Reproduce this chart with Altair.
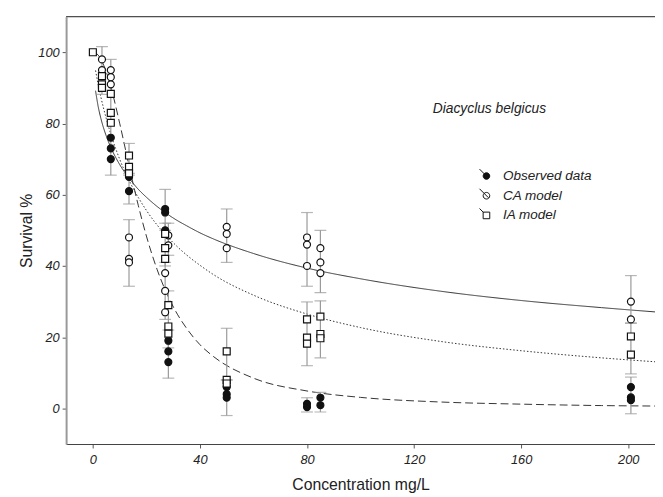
import altair as alt
import pandas as pd

# ---- fitted curves ----
curve_x = [1, 2, 3, 5, 7, 10, 14, 17, 20, 24, 27, 31, 35, 40, 45, 60, 80, 100, 130, 160, 190, 210]
curve_solid = [89.2, 84.7, 81.4, 76.5, 72.8, 68.5, 64.2, 61.5, 59.3, 56.7, 55.0, 53.0, 51.3, 49.3, 47.6, 43.5, 39.4, 36.4, 32.9, 30.3, 28.3, 27.1]
curve_dotted = [94.9, 90.9, 87.4, 81.4, 76.3, 70.0, 63.3, 59.2, 55.6, 51.5, 48.9, 45.8, 43.1, 40.2, 37.6, 31.8, 26.5, 22.7, 18.8, 16.2, 14.2, 13.1]
curve_dashed = [99.8, 99.2, 98.0, 94.5, 89.5, 80.1, 66.5, 56.9, 48.4, 39.0, 33.3, 27.2, 22.5, 17.9, 14.6, 8.5, 4.9, 3.1, 1.8, 1.2, 0.8, 0.67]

# ---- data points ----
obs_x = [6.7, 6.7, 6.7, 13.5, 13.5, 27, 27, 27, 28.2, 28.2, 28.2, 50, 50, 50, 80, 80, 85, 85, 201, 201, 201]
obs_y = [76, 73, 70, 65, 61, 56, 55, 50, 19, 16, 13, 6, 4, 3, 1.3, 0.4, 3, 0.9, 6, 3.1, 2.3]

ca_x = [3.4, 3.4, 6.7, 6.7, 6.7, 13.5, 13.5, 13.5, 27, 27, 27, 28.2, 28.2, 50, 50, 50, 80, 80, 80, 85, 85, 85, 201, 201]
ca_y = [98, 95, 95, 93, 91, 48, 42, 41, 38, 33, 27, 48.6, 45.8, 51, 49, 45, 48, 46, 40, 45, 41, 38, 30, 25]

ia_x = [0, 3.4, 3.4, 3.4, 6.7, 6.7, 6.7, 13.5, 13.5, 13.5, 27, 27, 27, 28.2, 28.2, 28.2, 50, 50, 50, 80, 80, 80, 85, 85, 85, 201, 201]
ia_y = [100, 93.3, 91, 90, 88.3, 83, 80.2, 71, 67.8, 66, 49, 45, 42, 29, 23, 21, 16, 8, 7, 25, 19.9, 18.2, 25.8, 20.9, 19.7, 20.2, 15.1]

# ---- error bars ----
err_x = [3.4, 6.7, 13.5, 13.5, 13.5, 27, 27, 27, 28.2, 28.2, 28.2, 50, 50, 50, 80, 80, 80, 85, 85, 85, 201, 201, 201]
err_lo = [88.2, 65.5, 65.5, 57.4, 34.3, 50, 40, 25, 43, 17, 8.5, 41, 8, -2, 34.3, 12, -1, 32.5, 14.2, -1, 23.9, 9.7, -1.5]
err_hi = [101.6, 98, 74.4, 66, 53, 61.5, 52, 41, 52, 33, 22, 56, 22.5, 8, 55, 29.9, 3, 50, 30.2, 4.5, 37.3, 24, 8.8]

series_names = ["Observed data", "CA model", "IA model"]
annot_text = ["Diacyclus belgicus"]
annot_x = [127]
annot_y = [84]

FONT = "Liberation Sans"

curves = pd.DataFrame({
    "x": curve_x * 3,
    "y": curve_solid + curve_dotted + curve_dashed,
    "fit": ["solid"] * len(curve_x) + ["dotted"] * len(curve_x) + ["dashed"] * len(curve_x),
})
points = pd.DataFrame({
    "x": obs_x + ca_x + ia_x,
    "y": obs_y + ca_y + ia_y,
    "series": [series_names[0]] * len(obs_x) + [series_names[1]] * len(ca_x) + [series_names[2]] * len(ia_x),
})
errs = pd.DataFrame({"x": err_x, "lo": err_lo, "hi": err_hi})
annot = pd.DataFrame({"x": annot_x, "y": annot_y, "t": annot_text})

xs = alt.Scale(domain=[-10, 210], nice=False, zero=False)
ys = alt.Scale(domain=[-10, 110], nice=False, zero=False)

x_axis = alt.Axis(values=[0, 40, 80, 120, 160, 200], grid=False, labelFontStyle="italic",
                  labelFont=FONT, labelFontSize=13, labelColor="#222", tickSize=4, tickColor="#555",
                  domainColor="#444", domainWidth=1.2, title="Concentration mg/L", titleFont=FONT,
                  titleFontSize=16, titleFontWeight="normal", titleColor="#222", titlePadding=10,
                  labelPadding=6)
y_axis = alt.Axis(values=[0, 20, 40, 60, 80, 100], grid=False, labelFontStyle="italic",
                  labelFont=FONT, labelFontSize=13, labelColor="#222", tickSize=4, tickColor="#555",
                  domainColor="#999", domainWidth=2, title="Survival %", titleFont=FONT,
                  titleFontSize=16, titleFontWeight="normal", titleColor="#222", titlePadding=3,
                  labelPadding=3)

lines = alt.Chart(curves).mark_line(color="#333", strokeWidth=1, interpolate="monotone").encode(
    x=alt.X("x:Q", scale=xs, axis=x_axis),
    y=alt.Y("y:Q", scale=ys, axis=y_axis),
    detail="fit:N",
    strokeDash=alt.StrokeDash("fit:N", scale=alt.Scale(domain=["solid", "dotted", "dashed"],
                                                        range=[[1, 0], [1.5, 2], [8, 4]]), legend=None),
)

err_rule = alt.Chart(errs).mark_rule(color="#999", strokeWidth=1.2).encode(
    x="x:Q", y="lo:Q", y2="hi:Q")
cap_lo = alt.Chart(errs).mark_tick(color="#999", size=12, thickness=1.2, orient="horizontal").encode(
    x="x:Q", y="lo:Q")
cap_hi = alt.Chart(errs).mark_tick(color="#999", size=12, thickness=1.2, orient="horizontal").encode(
    x="x:Q", y="hi:Q")

pts = alt.Chart(points).mark_point(size=50, strokeWidth=1.2, opacity=1).encode(
    x="x:Q", y="y:Q",
    shape=alt.Shape("series:N", scale=alt.Scale(domain=series_names, range=["circle", "circle", "square"]),
                    legend=None),
    fill=alt.Fill("series:N", scale=alt.Scale(domain=series_names, range=["#111", "white", "white"]),
                  legend=None),
    stroke=alt.value("#111"),
)

circ_path = "M0,-1A1,1,0,1,1,0,1A1,1,0,1,1,0,-1Z M-2.1,-2.1L0.6,0.6"
sq_path = "M-1,-1H1V1H-1Z M-2.1,-2.1L-0.9,-0.9"
leg_def = dict(title=None, orient="none", legendX=420, legendY=155,
               labelFont=FONT, labelFontSize=13.7, labelFontStyle="italic", labelColor="#222",
               symbolSize=45, rowPadding=3, labelOffset=10, symbolStrokeWidth=1)
legend_layer = alt.Chart(points).transform_filter("false").mark_point(size=45, strokeWidth=1, opacity=1).encode(
    x="x:Q", y="y:Q",
    shape=alt.Shape("series:N", scale=alt.Scale(domain=series_names, range=[circ_path, circ_path, sq_path]),
                    legend=alt.Legend(**leg_def)),
    fill=alt.Fill("series:N", scale=alt.Scale(domain=series_names, range=["#111", "white", "white"]),
                  legend=alt.Legend(**leg_def)),
    stroke=alt.Stroke("series:N", scale=alt.Scale(domain=series_names, range=["#111", "#111", "#111"]),
                      legend=alt.Legend(**leg_def)),
)

top_rule = alt.Chart(annot).mark_rule(color="#333", strokeWidth=1).encode(
    y=alt.value(0), x=alt.value(0), x2=alt.value(598))

txt = alt.Chart(annot).mark_text(font=FONT, fontSize=14, fontStyle="italic", color="#222",
                                 align="left").encode(x="x:Q", y="y:Q", text="t:N")

chart = alt.layer(lines, err_rule, cap_lo, cap_hi, pts, legend_layer, top_rule, txt).resolve_scale(
    shape="independent", fill="independent", stroke="independent"
).properties(
    width=598, height=434,
    autosize=alt.AutoSizeParams(type="none"),
    padding={"left": 59, "top": 5, "right": 0, "bottom": 50},
).configure_view(stroke=None).configure(background="white")

chart.save("out.html", embed_options={"renderer": "svg", "actions": False})
